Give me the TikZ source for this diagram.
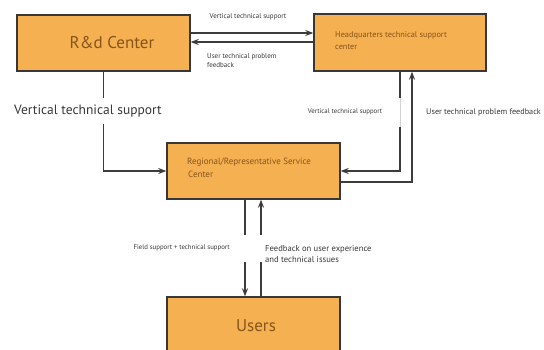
\documentclass[tikz,border=0pt]{standalone}
\usepackage{fontspec}
\setmainfont{PT Sans}
\usetikzlibrary{arrows.meta}
\definecolor{boxfill}{RGB}{245,176,82}
\definecolor{boxline}{RGB}{55,55,55}
\definecolor{boxtext}{RGB}{135,84,25}
\definecolor{linecol}{RGB}{60,60,60}
\definecolor{labcol}{RGB}{55,55,55}
\tikzset{
  box/.style={draw=boxline, line width=1.4pt, fill=boxfill, text=boxtext, inner sep=0pt},
  arr/.style={draw=linecol, line width=1.4pt, -{Stealth[length=8pt,width=6pt]}},
  ln/.style={draw=linecol, line width=1.4pt},
  lab/.style={text=labcol, inner sep=0pt, font=\fontsize{7}{8.5}\selectfont, align=left},
}
\begin{document}
\begin{tikzpicture}[x=1pt,y=-1pt]
\useasboundingbox (0,0) rectangle (544,349);
\fill[white] (0,0) rectangle (544,349);
\clip (0,0) rectangle (544,349);
% boxes
\node[box, minimum width=173pt, minimum height=56pt] (rd) at (103.5,43) {};
\node[text=boxtext, font=\fontsize{17}{20}\selectfont] (rdt) at (112,43) {R\&d Center};
\node[box, minimum width=172pt, minimum height=57pt] (hq) at (400,42.5) {};
\node[text=boxtext, anchor=north west, inner sep=0pt, align=left, font=\fontsize{8.3}{12}\selectfont] (hqt) at (335,31) {Headquarters technical support\\center};
\node[box, minimum width=173pt, minimum height=56pt] (reg) at (253.5,171) {};
\node[text=boxtext, anchor=north west, inner sep=0pt, align=left, font=\fontsize{9}{13}\selectfont] (regt) at (187,158) {Regional/Representative Service\\\hspace{1pt}Center};
\node[box, minimum width=173pt, minimum height=60pt] (us) at (253.5,327) {};
\node[text=boxtext, font=\fontsize{17}{20}\selectfont] (ust) at (256,326) {Users};
% R&D <-> HQ
\draw[arr] ([yshift=10pt]rd.east) -- ([yshift=10pt]rd.east -| hq.west);
\draw[arr] ([yshift=1pt]rd.east -| hq.west) -- ([yshift=1pt]rd.east);
\node[lab] (l1) at (248,17) {Vertical technical support};
\node[lab, anchor=north west, font=\fontsize{7}{9}\selectfont] (l2) at (207,53) {User technical problem\\feedback};
% R&D -> Regional
\draw[arr] (rd.south) |- (reg.west);
\node[fill=white, inner xsep=2pt, inner ysep=7pt, text=labcol, font=\fontsize{13.5}{16}\selectfont] (l3) at (88,111) {Vertical technical support};
% HQ -> Regional
\draw[arr] (hq.south) |- (reg.east);
\draw[white, line width=2pt] (400,98) -- (400,127);
\draw[gray!35, line width=0.6pt] (400,98) -- (400,127);
\node[lab, font=\fontsize{6.8}{8}\selectfont] (l4) at (345,112) {Vertical technical support};
% Regional -> HQ
\draw[arr] ([yshift=-11pt]reg.east) -| ([xshift=12pt]hq.south);
\node[lab, anchor=west, font=\fontsize{8.2}{10}\selectfont] (l5) at (426,112) {User technical problem feedback};
% Regional <-> Users
\draw[arr] ([xshift=-8.5pt]reg.south) -- ([xshift=-8.5pt]reg.south |- us.north);
\draw[arr] ([xshift=7.5pt]reg.south |- us.north) -- ([xshift=7.5pt]reg.south);
\fill[white] (238,235) rectangle (266,262);
\node[lab, anchor=east, font=\fontsize{6.8}{8}\selectfont] (l6) at (230,248) {Field support + technical support};
\node[lab, anchor=north west, font=\fontsize{8.6}{11.5}\selectfont] (l7) at (265,245) {Feedback on user experience\\and technical issues};
\end{tikzpicture}
\end{document}
